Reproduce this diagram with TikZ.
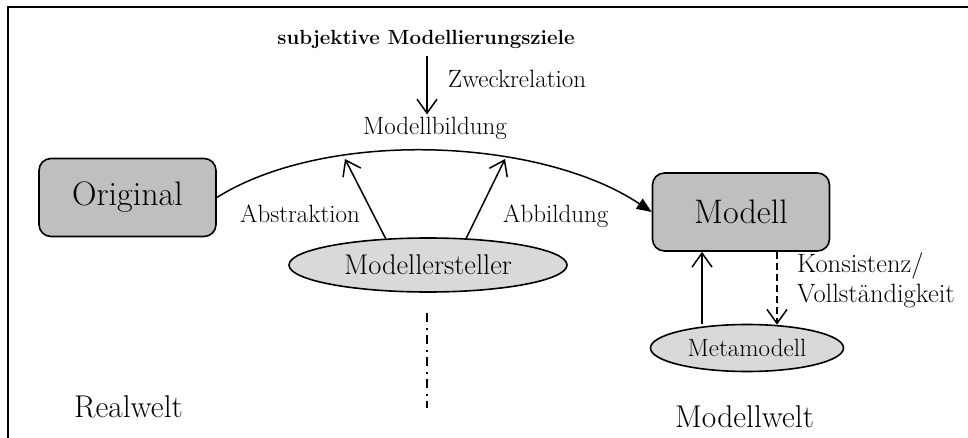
\documentclass[tikz,border=0pt]{standalone}
\usetikzlibrary{arrows.meta,shapes.geometric}
\definecolor{boxgray}{HTML}{BFBFBF}
\definecolor{ellgray}{HTML}{D9D9D9}
\begin{document}
\begin{tikzpicture}[x=1pt,y=-1pt,
  box/.style={draw, line width=1.6pt, rounded corners=12pt, fill=boxgray,
    minimum width=177pt, minimum height=78pt, inner sep=0pt,
    font=\fontsize{34}{40}\selectfont},
  oval/.style={draw, line width=1.6pt, ellipse, fill=ellgray, inner sep=0pt},
  lbl/.style={inner sep=0pt, font=\fontsize{25}{30}\selectfont},
  welt/.style={inner sep=0pt, font=\fontsize{31.5}{37}\selectfont},
  conn/.style={line width=1.5pt},
  barb/.style={conn, -{Straight Barb[length=14pt,width=20pt]}},
  flow/.style={conn, -{Triangle[length=15pt,width=12pt]}},
]
\useasboundingbox (0,0) rectangle (968,438);

% outer frame (left and top edges)
\draw[line width=1.6pt] (8,438) -- (8,7) -- (968,7);

% goals and purpose relation
\node[inner sep=0pt, anchor=base, font=\fontsize{20.5}{25}\selectfont\bfseries]
  (ziele) at (426,45) {subjektive Modellierungsziele};
\node[lbl, anchor=base] (bildung) at (435,135) {Modellbildung};
\node[lbl, anchor=base west] (zweck) at (448,88) {Zweckrelation};
\draw[barb, shorten <=7pt, shorten >=3pt] (ziele.south -| 427,0) -- (bildung.north -| 427,0);

% main nodes
\node[box] (orig) at (127.5,197.5) {Original};
\node[box] (modell) at (741,212) {Modell};
\node[oval, minimum width=278pt, minimum height=54pt,
  font=\fontsize{28.5}{34}\selectfont] (ersteller) at (428,265) {Modellersteller};
\node[oval, minimum width=193pt, minimum height=47pt,
  font=\fontsize{25}{30}\selectfont] (meta) at (747,348) {Metamodell};

% model building arc
\draw[flow] (orig.east) .. controls (328,128) and (541,138) .. (modell.west);

% abstraction and mapping
\coordinate (ta) at (345,159);
\coordinate (tb) at (505,159);
\draw[barb] (ersteller.148) -- (ta);
\draw[barb] (ersteller.35) -- (tb);
\node[lbl, anchor=base west] (abstr) at (240,223) {Abstraktion};
\node[lbl, anchor=base west] (abb) at (503,223) {Abbildung};

% metamodel relations
\coordinate (xa) at (702,0);
\coordinate (xb) at (777,0);
\draw[barb] (meta.north -| xa) -- (modell.south -| xa);
\draw[barb, dashed, dash pattern=on 7pt off 4pt] (modell.south -| xb) -- ([yshift=-1pt]meta.north -| xb);
\node[lbl, anchor=base west, font=\fontsize{26.5}{32}\selectfont] (kons) at (797,272) {Konsistenz/};
\node[lbl, anchor=base west, font=\fontsize{26.5}{32}\selectfont] (voll) at (797,302) {Vollständigkeit};

% separator between the two worlds
\coordinate (s1) at (427,313);
\coordinate (s2) at (427,408);
\draw[line width=1.8pt, dash pattern=on 9pt off 6pt on 2pt off 5pt] (s1) -- (s2);

\node[welt, anchor=base west] (real) at (74,417) {Realwelt};
\node[welt, anchor=base west] (mwelt) at (675,427) {Modellwelt};
\end{tikzpicture}
\end{document}
